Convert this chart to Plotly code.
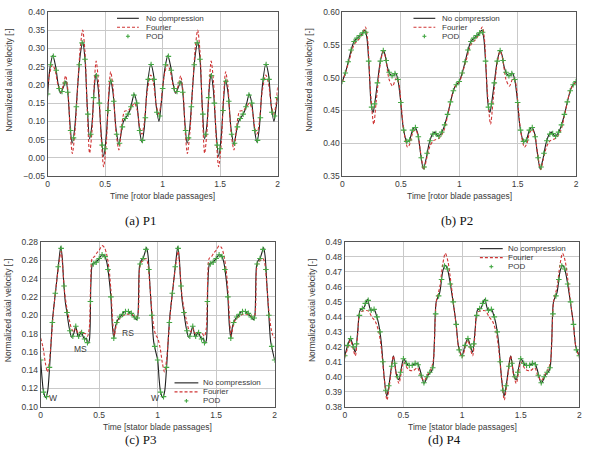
import plotly.graph_objects as go

# ---------------- data ----------------
pod_t = [0.000, 0.025, 0.050, 0.075, 0.100, 0.125, 0.150, 0.175, 0.200, 0.225,
         0.250, 0.275, 0.300, 0.325, 0.350, 0.375, 0.400, 0.425, 0.450, 0.475,
         0.500, 0.525, 0.550, 0.575, 0.600, 0.625, 0.650, 0.675, 0.700, 0.725,
         0.750, 0.775, 0.800, 0.825, 0.850, 0.875, 0.900, 0.925, 0.950, 0.975,
         1.000, 1.025, 1.050, 1.075, 1.100, 1.125, 1.150, 1.175, 1.200, 1.225,
         1.250, 1.275, 1.300, 1.325, 1.350, 1.375, 1.400, 1.425, 1.450, 1.475,
         1.500, 1.525, 1.550, 1.575, 1.600, 1.625, 1.650, 1.675, 1.700, 1.725,
         1.750, 1.775, 1.800, 1.825, 1.850, 1.875, 1.900, 1.925, 1.950, 1.975,
         2.000]

# (a) P1
A_nc_t = [0.000, 0.020, 0.045, 0.070, 0.090, 0.112, 0.135, 0.160, 0.178, 0.195,
          0.213, 0.235, 0.260, 0.283, 0.305, 0.325, 0.345, 0.365, 0.385, 0.405,
          0.420, 0.440, 0.465, 0.487, 0.510, 0.530, 0.547, 0.568, 0.595, 0.620,
          0.640, 0.660, 0.690, 0.715, 0.735, 0.753, 0.775, 0.800, 0.820, 0.840,
          0.865, 0.897, 0.920, 0.945, 0.968, 0.985,
          1.000, 1.020, 1.045, 1.070, 1.090, 1.112, 1.135, 1.160, 1.178, 1.195,
          1.213, 1.235, 1.260, 1.283, 1.305, 1.325, 1.345, 1.365, 1.385, 1.405,
          1.420, 1.440, 1.465, 1.487, 1.510, 1.530, 1.547, 1.568, 1.595, 1.620,
          1.640, 1.660, 1.690, 1.715, 1.735, 1.753, 1.775, 1.800, 1.820, 1.840,
          1.865, 1.897, 1.920, 1.945, 1.968, 1.985, 2.000]
A_nc_v = [0.170, 0.245, 0.280, 0.250, 0.205, 0.177, 0.192, 0.210, 0.170, 0.090,
          0.040, 0.080, 0.190, 0.280, 0.318, 0.270, 0.140, 0.052, 0.090, 0.190,
          0.230, 0.190, 0.070, 0.004, 0.060, 0.160, 0.213, 0.180, 0.080, 0.037,
          0.070, 0.100, 0.115, 0.130, 0.155, 0.175, 0.150, 0.075, 0.043, 0.080,
          0.190, 0.257, 0.230, 0.140, 0.100, 0.140,
          0.190, 0.245, 0.280, 0.250, 0.205, 0.177, 0.192, 0.210, 0.170, 0.090,
          0.040, 0.080, 0.190, 0.280, 0.318, 0.270, 0.140, 0.052, 0.090, 0.190,
          0.230, 0.190, 0.070, 0.004, 0.060, 0.160, 0.213, 0.180, 0.080, 0.037,
          0.070, 0.100, 0.115, 0.130, 0.155, 0.175, 0.150, 0.075, 0.043, 0.080,
          0.190, 0.257, 0.230, 0.140, 0.100, 0.135, 0.165]
A_fo_t = [0.000, 0.020, 0.042, 0.065, 0.090, 0.115, 0.137, 0.157, 0.178, 0.197,
          0.215, 0.237, 0.262, 0.285, 0.305, 0.325, 0.345, 0.365, 0.385, 0.405,
          0.422, 0.442, 0.465, 0.487, 0.510, 0.530, 0.548, 0.568, 0.595, 0.620,
          0.645, 0.670, 0.700, 0.730, 0.755, 0.780, 0.800, 0.820, 0.840, 0.865,
          0.897, 0.920, 0.945, 0.966, 0.985,
          1.000, 1.020, 1.042, 1.065, 1.090, 1.115, 1.137, 1.157, 1.178, 1.197,
          1.215, 1.237, 1.262, 1.285, 1.305, 1.325, 1.345, 1.365, 1.385, 1.405,
          1.422, 1.442, 1.465, 1.487, 1.510, 1.530, 1.548, 1.568, 1.595, 1.620,
          1.645, 1.670, 1.700, 1.730, 1.755, 1.780, 1.800, 1.820, 1.840, 1.865,
          1.897, 1.920, 1.945, 1.966, 1.985, 2.000]
A_fo_v = [0.195, 0.235, 0.255, 0.240, 0.200, 0.180, 0.200, 0.225, 0.180, 0.070,
          0.012, 0.070, 0.200, 0.305, 0.350, 0.290, 0.130, 0.013, 0.070, 0.200,
          0.265, 0.210, 0.060, -0.024, 0.040, 0.170, 0.236, 0.195, 0.070, 0.022,
          0.090, 0.128, 0.130, 0.140, 0.150, 0.130, 0.085, 0.065, 0.095, 0.180,
          0.227, 0.205, 0.145, 0.120, 0.145,
          0.195, 0.235, 0.255, 0.240, 0.200, 0.180, 0.200, 0.225, 0.180, 0.070,
          0.012, 0.070, 0.200, 0.305, 0.350, 0.290, 0.130, 0.013, 0.070, 0.200,
          0.265, 0.210, 0.060, -0.024, 0.040, 0.170, 0.236, 0.195, 0.070, 0.022,
          0.090, 0.128, 0.130, 0.140, 0.150, 0.130, 0.085, 0.065, 0.095, 0.180,
          0.227, 0.205, 0.145, 0.120, 0.145, 0.195]
A_pod_v = [0.175, 0.255, 0.278, 0.240, 0.190, 0.182, 0.205, 0.180, 0.075, 0.055,
           0.140, 0.255, 0.315, 0.270, 0.120, 0.065, 0.165, 0.225, 0.150, 0.035,
           0.025, 0.130, 0.210, 0.155, 0.065, 0.040, 0.085, 0.108, 0.120, 0.140,
           0.172, 0.150, 0.075, 0.048, 0.110, 0.215, 0.256, 0.215, 0.125, 0.115,
           0.190, 0.255, 0.278, 0.240, 0.190, 0.182, 0.205, 0.180, 0.075, 0.055,
           0.140, 0.255, 0.315, 0.270, 0.120, 0.065, 0.165, 0.225, 0.150, 0.035,
           0.025, 0.130, 0.210, 0.155, 0.065, 0.040, 0.085, 0.108, 0.120, 0.140,
           0.172, 0.150, 0.075, 0.048, 0.110, 0.215, 0.256, 0.215, 0.125, 0.115,
           0.165]

# (b) P2
B_nc_t = [0.000, 0.030, 0.057, 0.080, 0.100, 0.140, 0.170, 0.193, 0.210, 0.230,
          0.245, 0.263, 0.280, 0.300, 0.325, 0.350, 0.365, 0.385, 0.410, 0.435,
          0.455, 0.475, 0.495, 0.520, 0.552, 0.575, 0.600, 0.623, 0.645, 0.665,
          0.693, 0.715, 0.740, 0.765, 0.790, 0.820, 0.845, 0.870, 0.905, 0.935,
          0.960, 0.980,
          1.000, 1.030, 1.057, 1.080, 1.100, 1.140, 1.170, 1.193, 1.210, 1.230,
          1.245, 1.263, 1.280, 1.300, 1.325, 1.350, 1.365, 1.385, 1.410, 1.435,
          1.455, 1.475, 1.495, 1.520, 1.552, 1.575, 1.600, 1.623, 1.645, 1.665,
          1.693, 1.715, 1.740, 1.765, 1.790, 1.820, 1.845, 1.870, 1.905, 1.935,
          1.960, 1.980, 2.000]
B_nc_v = [0.494, 0.510, 0.529, 0.545, 0.555, 0.562, 0.567, 0.572, 0.560, 0.510,
          0.462, 0.447, 0.465, 0.492, 0.525, 0.541, 0.535, 0.516, 0.505, 0.503,
          0.507, 0.497, 0.470, 0.425, 0.402, 0.405, 0.420, 0.424, 0.415, 0.390,
          0.361, 0.375, 0.398, 0.412, 0.417, 0.411, 0.415, 0.425, 0.447, 0.470,
          0.485, 0.490,
          0.494, 0.510, 0.529, 0.545, 0.555, 0.562, 0.567, 0.572, 0.560, 0.510,
          0.462, 0.447, 0.465, 0.492, 0.525, 0.541, 0.535, 0.516, 0.505, 0.503,
          0.507, 0.497, 0.470, 0.425, 0.402, 0.405, 0.420, 0.424, 0.415, 0.390,
          0.361, 0.375, 0.398, 0.412, 0.417, 0.411, 0.415, 0.425, 0.447, 0.470,
          0.485, 0.490, 0.494]
B_fo_t = [0.000, 0.057, 0.100, 0.140, 0.170, 0.197, 0.215, 0.240, 0.268, 0.290,
          0.325, 0.350, 0.370, 0.400, 0.430, 0.460, 0.480, 0.500, 0.525, 0.558,
          0.580, 0.600, 0.625, 0.650, 0.670, 0.697, 0.720, 0.750, 0.780, 0.830,
          0.870, 0.905, 0.940, 0.970,
          1.000, 1.057, 1.100, 1.140, 1.170, 1.197, 1.215, 1.240, 1.268, 1.290,
          1.325, 1.350, 1.370, 1.400, 1.430, 1.460, 1.480, 1.500, 1.525, 1.558,
          1.580, 1.600, 1.625, 1.650, 1.670, 1.697, 1.720, 1.750, 1.780, 1.830,
          1.870, 1.905, 1.940, 1.970, 2.000]
B_fo_v = [0.493, 0.525, 0.550, 0.558, 0.566, 0.577, 0.560, 0.480, 0.429, 0.465,
          0.522, 0.540, 0.530, 0.497, 0.487, 0.499, 0.494, 0.465, 0.420, 0.394,
          0.400, 0.415, 0.421, 0.410, 0.385, 0.360, 0.376, 0.396, 0.404, 0.408,
          0.420, 0.446, 0.474, 0.488,
          0.493, 0.525, 0.550, 0.558, 0.566, 0.577, 0.560, 0.480, 0.429, 0.465,
          0.522, 0.540, 0.530, 0.497, 0.487, 0.499, 0.494, 0.465, 0.420, 0.394,
          0.400, 0.415, 0.421, 0.410, 0.385, 0.360, 0.376, 0.396, 0.404, 0.408,
          0.420, 0.446, 0.474, 0.488, 0.493]
B_pod_v = [0.494, 0.507, 0.524, 0.542, 0.555, 0.560, 0.564, 0.568, 0.569, 0.525,
           0.455, 0.460, 0.492, 0.525, 0.541, 0.526, 0.508, 0.503, 0.506, 0.497,
           0.462, 0.420, 0.403, 0.405, 0.420, 0.424, 0.410, 0.378, 0.364, 0.385,
           0.404, 0.414, 0.415, 0.411, 0.417, 0.428, 0.444, 0.463, 0.480, 0.489,
           0.494, 0.507, 0.524, 0.542, 0.555, 0.560, 0.564, 0.568, 0.569, 0.525,
           0.455, 0.460, 0.492, 0.525, 0.541, 0.526, 0.508, 0.503, 0.506, 0.497,
           0.462, 0.420, 0.403, 0.405, 0.420, 0.424, 0.410, 0.378, 0.364, 0.385,
           0.404, 0.414, 0.415, 0.411, 0.417, 0.428, 0.444, 0.463, 0.480, 0.489,
           0.494]

# (c) P3
C_nc_t = [0.000, 0.012, 0.025, 0.045, 0.060, 0.082, 0.102, 0.130, 0.153, 0.172,
          0.185, 0.195, 0.210, 0.223, 0.243, 0.265, 0.283, 0.299, 0.310, 0.322,
          0.335, 0.350, 0.365, 0.378, 0.390, 0.401, 0.415, 0.429, 0.443, 0.460,
          0.480, 0.500, 0.525, 0.545, 0.565, 0.585, 0.600, 0.612, 0.625, 0.640,
          0.660, 0.690, 0.720, 0.745, 0.770, 0.800, 0.818, 0.830, 0.845, 0.860,
          0.875, 0.890, 0.905, 0.918, 0.935, 0.950, 0.965, 0.980,
          1.000, 1.012, 1.025, 1.045, 1.060, 1.082, 1.102, 1.130, 1.153, 1.172,
          1.185, 1.195, 1.210, 1.223, 1.243, 1.265, 1.283, 1.299, 1.310, 1.322,
          1.335, 1.350, 1.365, 1.378, 1.390, 1.401, 1.415, 1.429, 1.443, 1.460,
          1.480, 1.500, 1.525, 1.545, 1.565, 1.585, 1.600, 1.612, 1.625, 1.640,
          1.660, 1.690, 1.720, 1.745, 1.770, 1.800, 1.818, 1.830, 1.845, 1.860,
          1.875, 1.890, 1.905, 1.918, 1.935, 1.950, 1.965, 1.980, 2.000]
C_nc_v = [0.151, 0.131, 0.116, 0.110, 0.117, 0.155, 0.196, 0.229, 0.256, 0.275,
          0.262, 0.240, 0.215, 0.204, 0.187, 0.176, 0.180, 0.188, 0.182, 0.176,
          0.179, 0.181, 0.176, 0.174, 0.175, 0.169, 0.172, 0.233, 0.256, 0.257,
          0.259, 0.262, 0.266, 0.265, 0.258, 0.240, 0.220, 0.190, 0.175, 0.188,
          0.195, 0.200, 0.204, 0.204, 0.202, 0.198, 0.195, 0.199, 0.254, 0.260,
          0.262, 0.268, 0.274, 0.265, 0.230, 0.200, 0.172, 0.162,
          0.151, 0.131, 0.116, 0.110, 0.117, 0.155, 0.196, 0.229, 0.256, 0.275,
          0.262, 0.240, 0.215, 0.204, 0.187, 0.176, 0.180, 0.188, 0.182, 0.176,
          0.179, 0.181, 0.176, 0.174, 0.175, 0.169, 0.172, 0.233, 0.256, 0.257,
          0.259, 0.262, 0.266, 0.265, 0.258, 0.240, 0.220, 0.190, 0.175, 0.188,
          0.195, 0.200, 0.204, 0.204, 0.202, 0.198, 0.195, 0.199, 0.254, 0.260,
          0.262, 0.268, 0.274, 0.265, 0.230, 0.200, 0.172, 0.162, 0.151]
C_fo_t = [0.000, 0.020, 0.040, 0.058, 0.075, 0.090, 0.110, 0.135, 0.160, 0.175,
          0.190, 0.205, 0.225, 0.245, 0.265, 0.285, 0.300, 0.320, 0.340, 0.360,
          0.380, 0.400, 0.415, 0.428, 0.440, 0.460, 0.480, 0.500, 0.525, 0.545,
          0.565, 0.585, 0.600, 0.615, 0.628, 0.645, 0.665, 0.700, 0.730, 0.760,
          0.790, 0.815, 0.830, 0.845, 0.860, 0.880, 0.900, 0.915, 0.935, 0.950,
          0.970, 0.985,
          1.000, 1.020, 1.040, 1.058, 1.075, 1.090, 1.110, 1.135, 1.160, 1.175,
          1.190, 1.205, 1.225, 1.245, 1.265, 1.285, 1.300, 1.320, 1.340, 1.360,
          1.380, 1.400, 1.415, 1.428, 1.440, 1.460, 1.480, 1.500, 1.525, 1.545,
          1.565, 1.585, 1.600, 1.615, 1.628, 1.645, 1.665, 1.700, 1.730, 1.760,
          1.790, 1.815, 1.830, 1.845, 1.860, 1.880, 1.900, 1.915, 1.935, 1.950,
          1.970, 1.985, 2.000]
C_fo_v = [0.175, 0.165, 0.148, 0.138, 0.150, 0.172, 0.205, 0.235, 0.260, 0.270,
          0.250, 0.225, 0.207, 0.195, 0.185, 0.182, 0.186, 0.180, 0.182, 0.180,
          0.180, 0.177, 0.185, 0.240, 0.262, 0.264, 0.268, 0.271, 0.276, 0.274,
          0.266, 0.250, 0.228, 0.195, 0.177, 0.188, 0.195, 0.199, 0.201, 0.201,
          0.200, 0.198, 0.200, 0.250, 0.258, 0.260, 0.262, 0.257, 0.230, 0.205,
          0.185, 0.178,
          0.175, 0.165, 0.148, 0.138, 0.150, 0.172, 0.205, 0.235, 0.260, 0.270,
          0.250, 0.225, 0.207, 0.195, 0.185, 0.182, 0.186, 0.180, 0.182, 0.180,
          0.180, 0.177, 0.185, 0.240, 0.262, 0.264, 0.268, 0.271, 0.276, 0.274,
          0.266, 0.250, 0.228, 0.195, 0.177, 0.188, 0.195, 0.199, 0.201, 0.201,
          0.200, 0.198, 0.200, 0.250, 0.258, 0.260, 0.262, 0.257, 0.230, 0.205,
          0.185, 0.178, 0.175]
C_pod_v = [0.151, 0.116, 0.111, 0.143, 0.192, 0.224, 0.253, 0.273, 0.232, 0.203,
           0.183, 0.177, 0.188, 0.177, 0.181, 0.174, 0.170, 0.215, 0.256, 0.258,
           0.262, 0.266, 0.264, 0.250, 0.220, 0.175, 0.192, 0.198, 0.201, 0.204,
           0.204, 0.202, 0.198, 0.197, 0.256, 0.262, 0.272, 0.250, 0.200, 0.166,
           0.151, 0.116, 0.111, 0.143, 0.192, 0.224, 0.253, 0.273, 0.232, 0.203,
           0.183, 0.177, 0.188, 0.177, 0.181, 0.174, 0.170, 0.215, 0.256, 0.258,
           0.262, 0.266, 0.264, 0.250, 0.220, 0.175, 0.192, 0.198, 0.201, 0.204,
           0.204, 0.202, 0.198, 0.197, 0.256, 0.262, 0.272, 0.250, 0.200, 0.166,
           0.151]
C_labels = ["W", "MS", "RS", "W"]
C_label_t = [0.107, 0.342, 0.743, 0.975]
C_label_v = [0.1096, 0.163, 0.181, 0.1096]

# (d) P4
D_nc_t = [0.000, 0.025, 0.048, 0.070, 0.090, 0.110, 0.132, 0.160, 0.178, 0.194,
          0.210, 0.225, 0.251, 0.270, 0.287, 0.310, 0.338, 0.358, 0.378, 0.394,
          0.414, 0.430, 0.442, 0.462, 0.480, 0.502, 0.520, 0.541, 0.575, 0.620,
          0.640, 0.676, 0.710, 0.738, 0.752, 0.765, 0.780, 0.809, 0.837, 0.857,
          0.875, 0.893, 0.921, 0.950, 0.969,
          1.000, 1.025, 1.048, 1.070, 1.090, 1.110, 1.132, 1.160, 1.178, 1.194,
          1.210, 1.225, 1.251, 1.270, 1.287, 1.310, 1.338, 1.358, 1.378, 1.394,
          1.414, 1.430, 1.442, 1.462, 1.480, 1.502, 1.520, 1.541, 1.575, 1.620,
          1.640, 1.676, 1.710, 1.738, 1.752, 1.765, 1.780, 1.809, 1.837, 1.857,
          1.875, 1.893, 1.921, 1.950, 1.969, 2.000]
D_nc_v = [0.414, 0.421, 0.4255, 0.421, 0.4164, 0.430, 0.4447, 0.4458, 0.449, 0.4517,
          0.447, 0.444, 0.445, 0.441, 0.436, 0.424, 0.398, 0.387, 0.395, 0.4044,
          0.414, 0.407, 0.401, 0.398, 0.405, 0.412, 0.410, 0.4077, 0.4077, 0.409,
          0.405, 0.3957, 0.401, 0.4035, 0.4068, 0.425, 0.4502, 0.456, 0.471, 0.4745,
          0.472, 0.4654, 0.4513, 0.4349, 0.4207,
          0.414, 0.421, 0.4255, 0.421, 0.4164, 0.430, 0.4447, 0.4458, 0.449, 0.4517,
          0.447, 0.444, 0.445, 0.441, 0.436, 0.424, 0.398, 0.387, 0.395, 0.4044,
          0.414, 0.407, 0.401, 0.398, 0.405, 0.412, 0.410, 0.4077, 0.4077, 0.409,
          0.405, 0.3957, 0.401, 0.4035, 0.4068, 0.425, 0.4502, 0.456, 0.471, 0.4745,
          0.472, 0.4654, 0.4513, 0.4349, 0.4207, 0.414]
D_fo_t = [0.000, 0.025, 0.048, 0.070, 0.090, 0.110, 0.130, 0.160, 0.200, 0.230,
          0.260, 0.290, 0.310, 0.338, 0.360, 0.380, 0.394, 0.414, 0.440, 0.462,
          0.480, 0.502, 0.540, 0.580, 0.620, 0.645, 0.676, 0.710, 0.740, 0.757,
          0.780, 0.810, 0.835, 0.857, 0.880, 0.900, 0.925, 0.950, 0.970,
          1.000, 1.025, 1.048, 1.070, 1.090, 1.110, 1.130, 1.160, 1.200, 1.230,
          1.260, 1.290, 1.310, 1.338, 1.360, 1.380, 1.394, 1.414, 1.440, 1.462,
          1.480, 1.502, 1.540, 1.580, 1.620, 1.645, 1.676, 1.710, 1.740, 1.757,
          1.780, 1.810, 1.835, 1.857, 1.880, 1.900, 1.925, 1.950, 1.970, 2.000]
D_fo_v = [0.413, 0.419, 0.4245, 0.419, 0.414, 0.428, 0.443, 0.444, 0.444, 0.440,
          0.437, 0.430, 0.420, 0.398, 0.3845, 0.394, 0.403, 0.414, 0.401, 0.3955,
          0.402, 0.410, 0.405, 0.404, 0.406, 0.401, 0.3975, 0.402, 0.406, 0.412,
          0.450, 0.460, 0.475, 0.4825, 0.477, 0.466, 0.450, 0.434, 0.420,
          0.413, 0.419, 0.4245, 0.419, 0.414, 0.428, 0.443, 0.444, 0.444, 0.440,
          0.437, 0.430, 0.420, 0.398, 0.3845, 0.394, 0.403, 0.414, 0.401, 0.3955,
          0.402, 0.410, 0.405, 0.404, 0.406, 0.401, 0.3975, 0.402, 0.406, 0.412,
          0.450, 0.460, 0.475, 0.4825, 0.477, 0.466, 0.450, 0.434, 0.420, 0.413]
D_pod_v = [0.414, 0.421, 0.4255, 0.420, 0.422, 0.441, 0.4455, 0.449, 0.451, 0.4445,
           0.445, 0.440, 0.430, 0.410, 0.391, 0.394, 0.407, 0.409, 0.400, 0.403,
           0.412, 0.409, 0.4075, 0.4077, 0.409, 0.408, 0.401, 0.396, 0.400, 0.403,
           0.406, 0.442, 0.454, 0.465, 0.474, 0.472, 0.462, 0.450, 0.435, 0.418,
           0.414, 0.421, 0.4255, 0.420, 0.422, 0.441, 0.4455, 0.449, 0.451, 0.4445,
           0.445, 0.440, 0.430, 0.410, 0.391, 0.394, 0.407, 0.409, 0.400, 0.403,
           0.412, 0.409, 0.4075, 0.4077, 0.409, 0.408, 0.401, 0.396, 0.400, 0.403,
           0.406, 0.442, 0.454, 0.465, 0.474, 0.472, 0.462, 0.450, 0.435, 0.418,
           0.414]

series_names = ["No compression", "Fourier", "POD"]
x_tick_vals = [0, 0.5, 1, 1.5, 2]
x_tick_text = ["0", "0.5", "1", "1.5", "2"]
x_titles = ["Time [rotor blade passages]", "Time [rotor blade passages]",
            "Time [stator blade passages]", "Time [stator blade passages]"]
y_title = "Normalized axial velocity [-]"
captions = ["(a) P1", "(b) P2", "(c) P3", "(d) P4"]
y_ranges = [(-0.05, 0.40), (0.35, 0.60), (0.10, 0.28), (0.38, 0.49)]
y_dticks = [0.05, 0.05, 0.02, 0.01]

for a, b in [(A_nc_t, A_nc_v), (A_fo_t, A_fo_v), (pod_t, A_pod_v),
             (B_nc_t, B_nc_v), (B_fo_t, B_fo_v), (pod_t, B_pod_v),
             (C_nc_t, C_nc_v), (C_fo_t, C_fo_v), (pod_t, C_pod_v),
             (D_nc_t, D_nc_v), (D_fo_t, D_fo_v), (pod_t, D_pod_v)]:
    assert len(a) == len(b), (len(a), len(b))

# ---------------- style / layout ----------------
W, H = 589, 458
def px(x):
    return x / W
def py(y):
    return 1 - y / H

BLACK = "#1e1e1e"
RED = "#cf3535"
GREEN = "#45a845"
GRID = "#c9c9c9"
FRAME = "#555555"
TXT = "#3a3a3a"
SANS = "Liberation Sans"
SERIF = "Liberation Serif"
FS = 8.5

# plot areas in pixels: (x0, x1, ytop, ybottom)
areas = [(46, 278, 7, 175), (343.3, 579, 7, 175),
         (39, 275, 242.3, 410.7), (345.7, 582.3, 242.3, 410.7)]

data_sets = [
    (A_nc_t, A_nc_v, A_fo_t, A_fo_v, A_pod_v),
    (B_nc_t, B_nc_v, B_fo_t, B_fo_v, B_pod_v),
    (C_nc_t, C_nc_v, C_fo_t, C_fo_v, C_pod_v),
    (D_nc_t, D_nc_v, D_fo_t, D_fo_v, D_pod_v),
]

fig = go.Figure()
layout = dict(
    width=W, height=H, margin=dict(l=0, r=0, t=0, b=0),
    paper_bgcolor="white", plot_bgcolor="white",
    showlegend=False, hovermode=False,
    font=dict(family=SANS, size=FS, color=TXT),
)

annotations = []
shapes = []

for i, (nt, nv, ft, fv, pv) in enumerate(data_sets):
    k = "" if i == 0 else str(i + 1)
    xa, ya = "x" + k, "y" + k
    fig.add_trace(go.Scatter(x=nt, y=nv, mode="lines", name=series_names[0],
                             line=dict(color=BLACK, width=1.1, shape="spline", smoothing=0.8),
                             xaxis=xa, yaxis=ya))
    fig.add_trace(go.Scatter(x=ft, y=fv, mode="lines", name=series_names[1],
                             line=dict(color=RED, width=1.1, dash="3px,2px", shape="spline", smoothing=0.8),
                             xaxis=xa, yaxis=ya))
    fig.add_trace(go.Scatter(x=pod_t, y=pv, mode="markers", name=series_names[2],
                             marker=dict(symbol="cross-thin", size=4, color=GREEN,
                                         line=dict(color=GREEN, width=1.1)),
                             xaxis=xa, yaxis=ya))
    x0, x1, yt, yb = areas[i]
    y0r, y1r = y_ranges[i]
    layout["xaxis" + k] = dict(
        domain=[px(x0), px(x1)], anchor=ya, range=[0, 2],
        tickvals=x_tick_vals, ticktext=x_tick_text,
        showgrid=True, gridcolor=GRID, gridwidth=1, zeroline=False,
        showline=True, linecolor=FRAME, linewidth=1, mirror=True,
        ticks="", tickfont=dict(size=FS, color=TXT, family=SANS),
    )
    layout["yaxis" + k] = dict(
        domain=[py(yb), py(yt)], anchor=xa, range=[y0r, y1r],
        tick0=y0r, dtick=y_dticks[i], tickformat=".2f",
        showgrid=True, gridcolor=GRID, gridwidth=1, zeroline=False,
        showline=True, linecolor=FRAME, linewidth=1, mirror=True,
        ticks="", tickfont=dict(size=FS, color=TXT, family=SANS),
    )
    cx = (x0 + x1) / 2
    annotations.append(dict(text=x_titles[i], x=px(cx), y=py(yb + 20.5), xref="paper", yref="paper",
                            showarrow=False, xanchor="center", yanchor="middle", borderpad=0,
                            font=dict(size=FS, color=TXT, family=SANS)))
    ytx = [7.5, 310, 5.5, 312][i]
    yty = (yt + yb) / 2 - 14
    annotations.append(dict(text=y_title, x=px(ytx), y=py(yty), xref="paper", yref="paper",
                            showarrow=False, textangle=-90, xanchor="center", yanchor="middle",
                            font=dict(size=FS, color=TXT, family=SANS)))
    capx = [140, 459, 139.5, 446][i]
    capy = [220, 220, 444.5, 444.5][i]
    annotations.append(dict(text=captions[i], x=px(capx), y=py(capy), xref="paper", yref="paper",
                            showarrow=False, xanchor="center", yanchor="middle", borderpad=0,
                            font=dict(size=13, color="#111111", family=SERIF)))

for lab, t, v in zip(C_labels, C_label_t, C_label_v):
    annotations.append(dict(text=lab, x=t, y=v, xref="x3", yref="y3", showarrow=False,
                            xanchor="center", yanchor="middle",
                            font=dict(size=FS, color=TXT, family=SANS)))

# manual legends: (line x0, line x1, text x, middle row y, box)
ROW = 9.2
legends = [
    (116, 138, 144, 22.8, (111, 7.5, 205, 37.5)),
    (415, 437, 443, 22.8, (410, 7.5, 505, 37.5)),
    (174, 198, 202, 395.5, (170, 380, 265, 410)),
    (482, 505, 509, 258.3, (477, 243, 571, 273)),
]
for (l0, l1, tx, ym, box) in legends:
    rows = [ym - ROW, ym, ym + ROW]
    shapes.append(dict(type="rect", xref="paper", yref="paper",
                       x0=px(box[0]), x1=px(box[2]), y0=py(box[3]), y1=py(box[1]),
                       fillcolor="white", line=dict(width=0), layer="between"))
    shapes.append(dict(type="line", xref="paper", yref="paper",
                       x0=px(l0), x1=px(l1), y0=py(rows[0]), y1=py(rows[0]),
                       line=dict(color=BLACK, width=1.1), layer="between"))
    shapes.append(dict(type="line", xref="paper", yref="paper",
                       x0=px(l0), x1=px(l1), y0=py(rows[1]), y1=py(rows[1]),
                       line=dict(color=RED, width=1.1, dash="3px,2px"), layer="between"))
    cxm = (l0 + l1) / 2
    shapes.append(dict(type="line", xref="paper", yref="paper",
                       x0=px(cxm - 2), x1=px(cxm + 2), y0=py(rows[2]), y1=py(rows[2]),
                       line=dict(color=GREEN, width=1.1), layer="between"))
    shapes.append(dict(type="line", xref="paper", yref="paper",
                       x0=px(cxm), x1=px(cxm), y0=py(rows[2] - 2), y1=py(rows[2] + 2),
                       line=dict(color=GREEN, width=1.1), layer="between"))
    for name, ry in zip(series_names, rows):
        annotations.append(dict(text=name, x=px(tx), y=py(ry), xref="paper", yref="paper",
                                showarrow=False, xanchor="left", yanchor="middle", borderpad=0,
                                font=dict(size=8, color=TXT, family=SANS)))

layout["annotations"] = annotations
layout["shapes"] = shapes
fig.update_layout(**layout)
fig.write_html("out.html")
